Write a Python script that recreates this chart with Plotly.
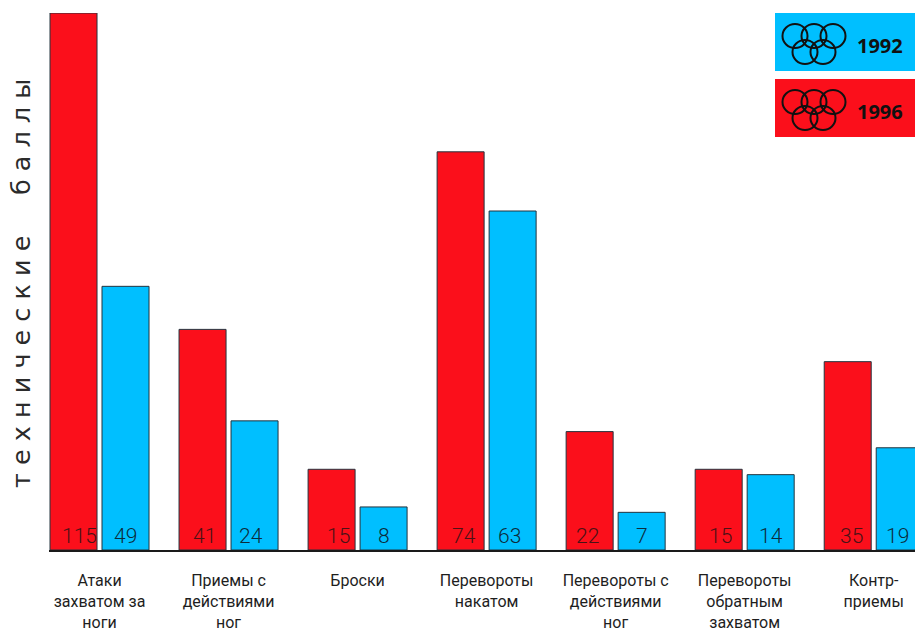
import plotly.graph_objects as go

# Technical points by hold category, Olympic Games 1992 and 1996
categories = [
    "Атаки<br>захватом за<br>ноги",
    "Приемы с<br>действиями<br>ног",
    "Броски",
    "Перевороты<br>накатом",
    "Перевороты с<br>действиями<br>ног",
    "Перевороты<br>обратным<br>захватом",
    "Контр-<br>приемы",
]
points_1996 = [115, 41, 15, 74, 22, 15, 35]
points_1992 = [49, 24, 8, 63, 7, 14, 19]
# Nudges of the value captions along x, in pixels
nudge_1996 = [5.5, 2, 6.5, 3.5, -2.5, 1.5, 3.5]
nudge_1992 = [0, -3.5, 0, -3.5, 0, 0.5, -2.5]

RED = "#fb0f1b"
BLUE = "#00bfff"
EDGE = "#23343f"
BAR_SLOT = 26
W, H = 915, 632
LEFT, TOP, BOTTOM = 49, 13, 550
Y_MAX = 99.8
X_RANGE = [-0.3915, 6.32]


def paper_x(x):
    return (x - LEFT) / (W - LEFT)


def paper_y(y):
    return (BOTTOM - y) / (BOTTOM - TOP)


fig = go.Figure()
positions = list(range(len(categories)))
fig.add_bar(x=positions, y=points_1996, name="1996",
            marker=dict(color=RED, line=dict(color=EDGE, width=1)))
fig.add_bar(x=positions, y=points_1992, name="1992",
            marker=dict(color=BLUE, line=dict(color=EDGE, width=1)))

annotations = []
for series, nudges, sign, tone in [(points_1996, nudge_1996, -1, "#4a1216"),
                                   (points_1992, nudge_1992, 1, "#0c2c3c")]:
    for i, (value, nudge) in enumerate(zip(series, nudges)):
        annotations.append(dict(
            x=i, y=0, xref="x", yref="y", text=str(value), showarrow=False,
            xanchor="center", yanchor="bottom",
            xshift=sign * BAR_SLOT + nudge, yshift=0,
            font=dict(family="Roboto", size=21, weight=300, color=tone),
        ))

# Vertical axis caption with widely spaced letters
spaced_title = "\u00a0".join("технические") + "\u00a0" * 5 + "\u00a0".join("баллы")
annotations.append(dict(
    x=paper_x(21), y=paper_y(284), xref="paper", yref="paper", text=spaced_title,
    textangle=-90, showarrow=False, xanchor="center", yanchor="middle",
    font=dict(family="DejaVu Sans", size=25.5, color="#2b2b2b"),
))

# Legend panels with the Olympic rings
shapes = []
ring_centres = [(795, 36), (814, 36), (833, 36), (805, 52), (823, 52)]
for top, colour, label in [(13, BLUE, "1992"), (79, RED, "1996")]:
    shapes.append(dict(type="rect", xref="paper", yref="paper", layer="above",
                       x0=paper_x(775), x1=1,
                       y0=paper_y(top + 58), y1=paper_y(top),
                       fillcolor=colour, line=dict(width=0)))
    for cx, cy in ring_centres:
        cy = cy + top - 13
        shapes.append(dict(type="circle", xref="paper", yref="paper", layer="above",
                           x0=paper_x(cx - 12.5), x1=paper_x(cx + 12.5),
                           y0=paper_y(cy + 12), y1=paper_y(cy - 12),
                           line=dict(color="#111111", width=2)))
    annotations.append(dict(
        x=paper_x(880), y=paper_y(top + 32), xref="paper", yref="paper",
        text=f"<b>{label}</b>", showarrow=False, xanchor="center", yanchor="middle",
        font=dict(family="Open Sans", size=20, color="#111111"),
    ))

# The tallest bar runs past the axis top, so its cut edge is closed off
shapes.append(dict(type="line", xref="x", yref="y", layer="above",
                   x0=-0.385, x1=-0.022, y0=Y_MAX, y1=Y_MAX,
                   line=dict(color=EDGE, width=1)))

fig.update_layout(
    width=W, height=H, autosize=False,
    margin=dict(l=LEFT, r=0, t=TOP, b=H - BOTTOM, autoexpand=False),
    plot_bgcolor="white", paper_bgcolor="white",
    barmode="group", bargap=0.194, bargroupgap=0.096,
    showlegend=False,
    annotations=annotations, shapes=shapes,
    xaxis=dict(range=X_RANGE, tickmode="array", tickvals=positions, ticktext=categories,
               automargin=False,
               showgrid=False, ticks="", ticklabelstandoff=15, tickangle=0,
               showline=True, linecolor="#1a1a1a", linewidth=2,
               tickfont=dict(family="Roboto", size=16, color="#1e1e1e")),
    yaxis=dict(range=[0, Y_MAX], visible=False),
)
fig.write_html("out.html")
